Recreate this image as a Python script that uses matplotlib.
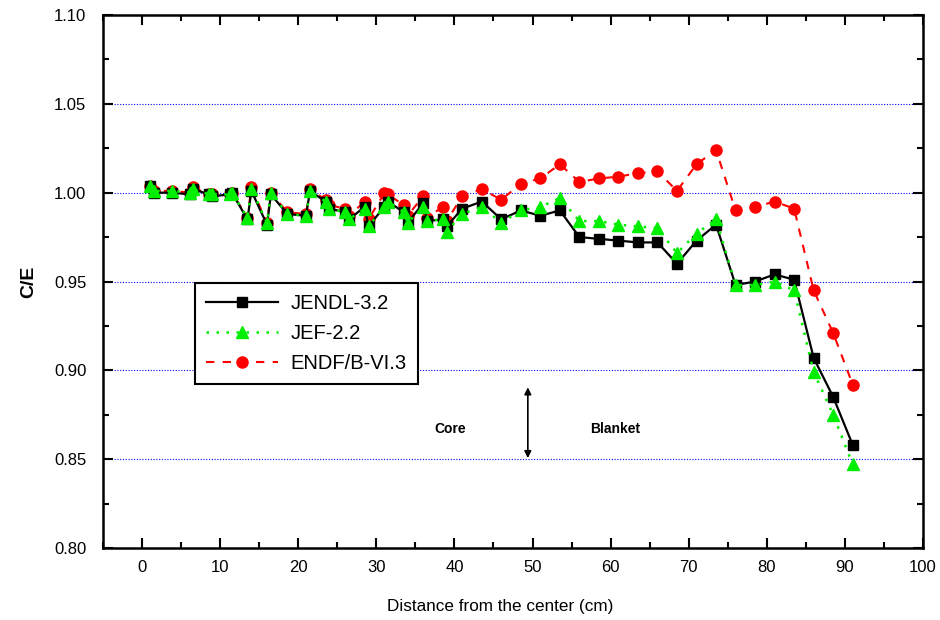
import numpy as np
import matplotlib.pyplot as plt
from matplotlib.ticker import MultipleLocator

plt.rcParams['font.family'] = ['Liberation Sans', 'DejaVu Sans']

# distance from the center (cm)
dist = [1.0, 1.5, 3.8, 6.2, 6.5, 8.6, 9.0, 11.3, 11.5, 13.5, 14.0, 16.0, 16.5,
        18.6, 21.0, 21.5, 23.5, 24.0, 26.0, 26.5, 28.5, 29.0, 31.0, 31.5, 33.5,
        34.0, 36.0, 36.5, 38.5, 39.0, 41.0, 43.5, 46.0, 48.5, 51.0, 53.5, 56.0,
        58.5, 61.0, 63.5, 66.0, 68.5, 71.0, 73.5, 76.0, 78.5, 81.0, 83.5, 86.0,
        88.5, 91.0]

jendl = [1.004, 1.000, 1.000, 0.999, 1.002, 0.999, 0.998, 0.999, 1.000, 0.985,
         1.001, 0.982, 0.999, 0.988, 0.987, 1.001, 0.995, 0.991, 0.989, 0.985,
         0.992, 0.981, 0.992, 0.995, 0.989, 0.983, 0.994, 0.984, 0.985, 0.981,
         0.991, 0.995, 0.985, 0.990, 0.987, 0.990, 0.975, 0.974, 0.973, 0.972,
         0.972, 0.960, 0.973, 0.982, 0.948, 0.950, 0.954, 0.951, 0.907, 0.885,
         0.858]

jef = [1.004, 1.001, 1.001, 1.000, 1.002, 0.999, 0.999, 0.999, 1.000, 0.986,
       1.002, 0.983, 1.000, 0.988, 0.987, 1.001, 0.995, 0.991, 0.989, 0.985,
       0.991, 0.981, 0.992, 0.995, 0.989, 0.983, 0.992, 0.984, 0.985, 0.978,
       0.988, 0.992, 0.983, 0.990, 0.992, 0.997, 0.984, 0.984, 0.982, 0.981,
       0.980, 0.966, 0.977, 0.985, 0.948, 0.948, 0.950, 0.945, 0.899, 0.875,
       0.847]

endf = [1.004, 1.001, 1.001, 1.000, 1.003, 0.999, 0.999, 0.999, 1.000, 0.986,
        1.003, 0.983, 1.000, 0.989, 0.988, 1.002, 0.996, 0.993, 0.991, 0.987,
        0.995, 0.985, 0.9996, 0.999, 0.993, 0.987, 0.998, 0.986, 0.992, 0.984,
        0.998, 1.002, 0.996, 1.005, 1.008, 1.016, 1.006, 1.008, 1.009, 1.011,
        1.012, 1.001, 1.016, 1.024, 0.990, 0.992, 0.995, 0.991, 0.945, 0.921,
        0.892]

fig = plt.figure(figsize=(9.4, 6.2), dpi=100)
ax = fig.add_axes([103/940, 1 - 548/620, 820/940, 533/620])

l3, = ax.plot(dist, endf, color='red', ls=(0, (4, 4)), lw=1.5, marker='o',
              ms=8, label='ENDF/B-VI.3', zorder=3)
l1, = ax.plot(dist, jendl, color='black', ls='-', lw=1.6, marker='s',
              ms=7, label='JENDL-3.2', zorder=4)
l2, = ax.plot(dist, jef, color='#00ee00', ls=(0, (1, 3)), lw=1.8, marker='^',
              ms=9, label='JEF-2.2', zorder=5)

ax.set_xlim(-5, 100)
ax.set_ylim(0.80, 1.10)
ax.xaxis.set_major_locator(MultipleLocator(10))
ax.xaxis.set_minor_locator(MultipleLocator(5))
ax.yaxis.set_major_locator(MultipleLocator(0.05))
ax.yaxis.set_minor_locator(MultipleLocator(0.025))
ax.tick_params(which='both', direction='in', top=True, right=True,
               width=1.5, labelsize=12)
ax.tick_params(which='major', length=7)
ax.tick_params(which='minor', length=4)
ax.tick_params(axis='y', pad=12)
ax.tick_params(axis='x', pad=9)
ax.set_yticks([0.80, 0.85, 0.90, 0.95, 1.00, 1.05, 1.10])
ax.set_yticklabels(['0.80', '0.85', '0.90', '0.95', '1.00', '1.05', '1.10'])
for s in ax.spines.values():
    s.set_linewidth(1.8)

for g in [0.85, 0.90, 0.95, 1.00, 1.05]:
    ax.axhline(g, color='blue', ls=(0, (1, 1.5)), lw=0.8, zorder=1)

ax.set_xlabel('Distance from the center (cm)', fontsize=12.3)
ax.xaxis.set_label_coords(0.484, -0.095)
ax.set_ylabel('C/E', fontsize=14, fontweight='bold', labelpad=12)

leg = ax.legend(handles=[l1, l2, l3], loc='upper left',
                bbox_to_anchor=(0.112, 0.497), borderaxespad=0,
                fontsize=14.5, fancybox=False, edgecolor='black',
                framealpha=1, handlelength=3.6, handletextpad=0.6,
                borderpad=0.55, labelspacing=0.55)
leg.get_frame().set_linewidth(1.5)

ax.annotate('', xy=(49.4, 0.849), xytext=(49.4, 0.892),
            arrowprops=dict(arrowstyle='<|-|>', color='black', lw=1.2,
                            mutation_scale=10))
ax.text(39.5, 0.867, 'Core', fontsize=10, fontweight='bold',
        ha='center', va='center')
ax.text(60.6, 0.867, 'Blanket', fontsize=10, fontweight='bold',
        ha='center', va='center')

fig.savefig('out.png', dpi=100)
